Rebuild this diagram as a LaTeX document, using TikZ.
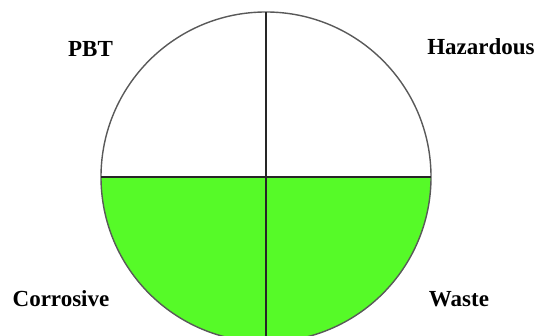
\documentclass[tikz,border=0pt]{standalone}
\usepackage{fontspec}
\setmainfont{Liberation Serif}
\usetikzlibrary{positioning}
\definecolor{wastegreen}{RGB}{86,250,40}

\begin{document}
\begin{tikzpicture}[
  x=1pt, y=1pt,
  font=\bfseries\fontsize{23}{26}\selectfont,
  tag/.style={anchor=base, inner sep=0pt},
  rim/.style={draw=black!65, line width=1.4pt},
  cross/.style={draw=black!85, line width=1.7pt}
]
\useasboundingbox (0,0) rectangle (537,336);
\clip (0,0) rectangle (537,336);
\coordinate (c) at (266,159);
\coordinate (w) at (101,159);
\coordinate (e) at (431,159);
\coordinate (n) at (266,324);
\coordinate (s) at (266,-6);

\fill[wastegreen] (w) arc[start angle=180, end angle=360, radius=165] -- cycle;
\draw[rim] (c) circle[radius=165];
\draw[cross] (w) -- (e);
\draw[cross] (n) -- (s);

\node[tag] (pbt) at (90.5,279) {PBT};
\node[tag] (haz) at (481,281) {Hazardous};
\node[tag] (cor) at (61,29) {Corrosive};
\node[tag] (was) at (459,29) {Waste};
\end{tikzpicture}
\end{document}
